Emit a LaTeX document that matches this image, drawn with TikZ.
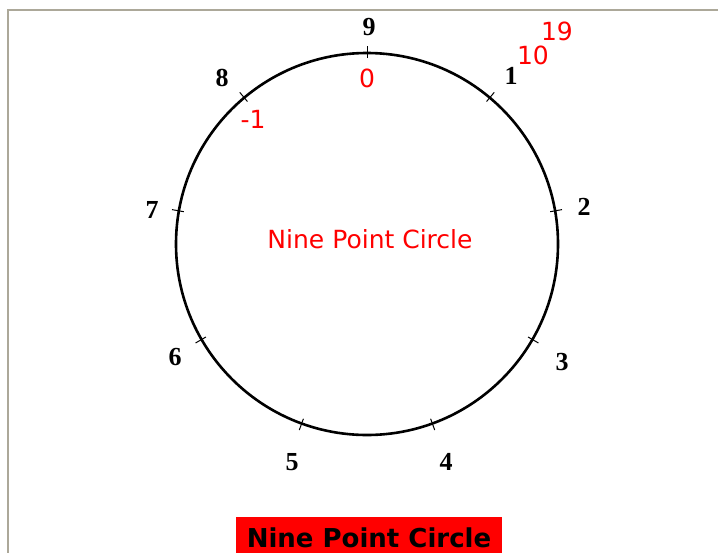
\documentclass[tikz,border=0pt]{standalone}
\usepackage{fontspec}
\setmainfont{Liberation Serif}
\newfontfamily\tahoma{DejaVu Sans}
\usetikzlibrary{calc}
\definecolor{framegray}{RGB}{172,168,153}
\begin{document}
\begin{tikzpicture}[x=1pt,y=-1pt,inner sep=0pt,
  num/.style={font=\fontsize{26}{26}\selectfont\bfseries},
  rednum/.style={text=red,font=\tahoma\fontsize{25}{25}\selectfont}]
  \useasboundingbox (0,0) rectangle (718,552);
  \fill[white] (0,0) rectangle (718,552);
  % frame of the window
  \draw[framegray,line width=2pt] (7.5,553) -- (7.5,9.5) -- (719,9.5);
  % the circle and its nine marks
  \coordinate (c) at (367,244);
  \draw[line width=2.6pt] (c) circle[radius=191];
  \foreach \i in {0,...,8}
    \draw[line width=1pt] ($(c)+(270+40*\i:186)$) -- ($(c)+(270+40*\i:198)$);
  % numbers
  \node[num] (l9) at (369,27) {9};
  \node[num] (l1) at (511,76) {1};
  \node[num] (l2) at (584,207) {2};
  \node[num] (l3) at (562,362) {3};
  \node[num] (l4) at (446,462) {4};
  \node[num] (l5) at (292,462) {5};
  \node[num] (l6) at (175,357) {6};
  \node[num] (l7) at (152,210) {7};
  \node[num] (l8) at (222,78) {8};
  \node[rednum] (r0) at (367,78) {0};
  \node[rednum] (rm1) at (253,119) {-1};
  \node[rednum] (r10) at (533,55) {10};
  \node[rednum] (r19) at (557,31) {19};
  \node[text=red,font=\tahoma\fontsize{25}{25}\selectfont] (name) at (370,239) {Nine Point Circle};
  % caption
  \fill[red] (236,517) rectangle (502,553);
  \node[font=\tahoma\bfseries\fontsize{26}{26}\selectfont] (title) at (369,537.5) {Nine Point Circle};
\end{tikzpicture}
\end{document}
